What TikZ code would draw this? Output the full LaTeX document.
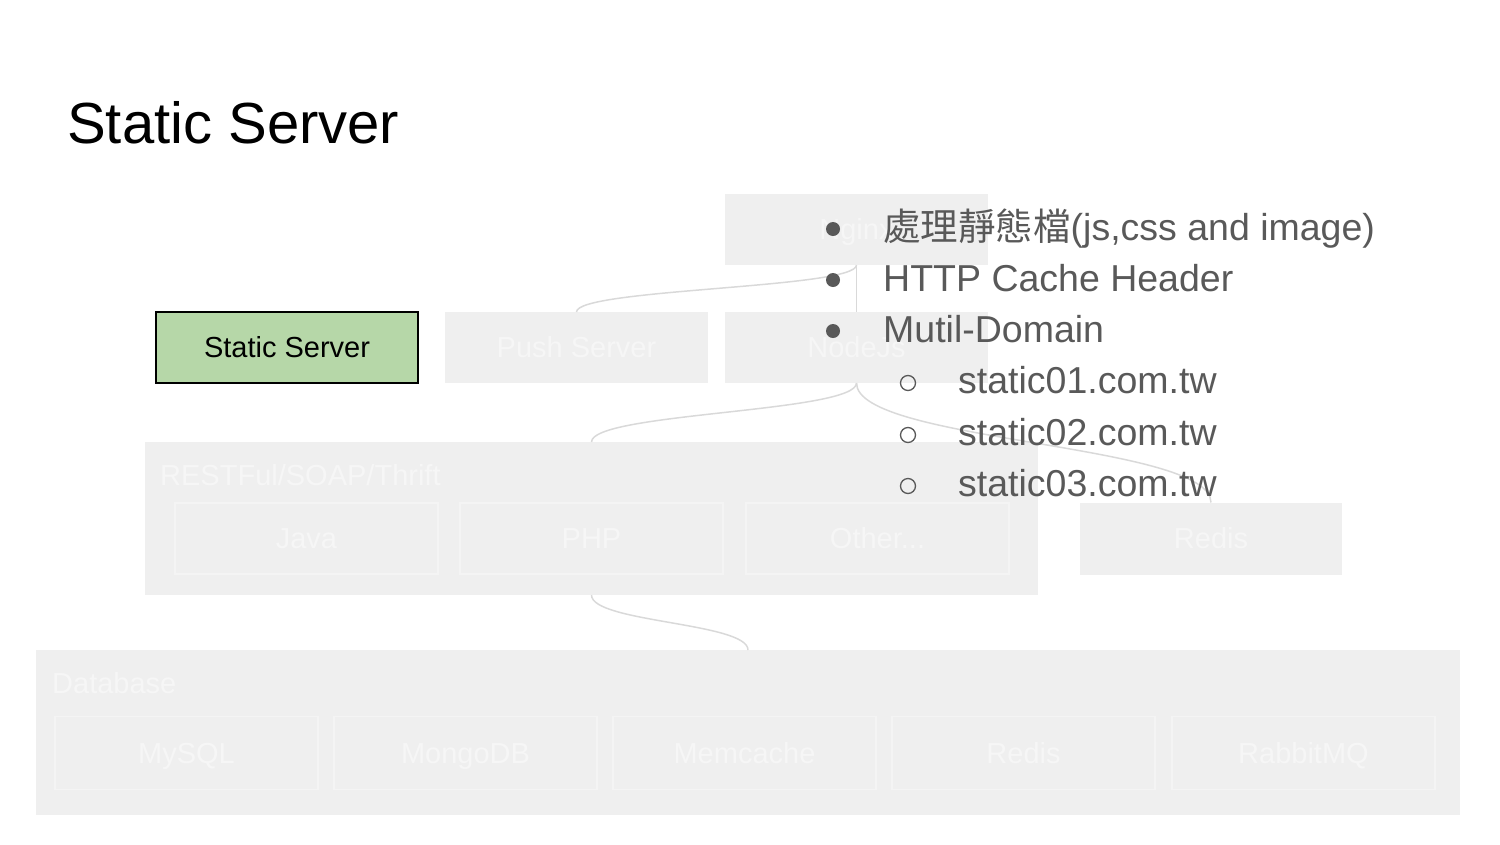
\documentclass[tikz,border=0pt]{standalone}
\usepackage{fontspec}
\setmainfont{Liberation Sans}
\newfontfamily\cjk{Noto Sans CJK TC}
\usepackage{xcolor}
\usepackage{tikz}
\usetikzlibrary{calc}

\definecolor{boxgreen}{HTML}{B6D7A8}
\definecolor{fadefill}{HTML}{EFEFEF}
\definecolor{fadeline}{HTML}{F4F4F4}
\definecolor{fadetxt}{HTML}{F6F6F6}
\definecolor{linkgray}{HTML}{D9D9D9}
\definecolor{listgray}{HTML}{595959}

\begin{document}
\begin{tikzpicture}[x=1pt,y=-1pt,
	fadebox/.style={fill=fadefill,inner sep=0pt,outer sep=0pt,minimum width=263pt,minimum height=71pt,text=fadetxt,text height=20.8pt,text depth=0pt,font=\fontsize{29}{34}\selectfont},
	fadeinner/.style={fadebox,draw=fadeline,line width=1.5pt},
	fadegroup/.style={fill=fadefill,inner sep=0pt,outer sep=0pt},
	grouplabel/.style={anchor=base west,inner sep=0pt,text=fadetxt,font=\fontsize{29}{34}\selectfont},
	link/.style={draw=linkgray,line width=1.5pt},
	listtext/.style={anchor=base west,inner sep=0pt,text=listgray,font=\fontsize{37.5}{45}\selectfont}]
	\useasboundingbox (0,0) rectangle (1500,844);
	% title
	\node[anchor=base west,inner sep=0pt,font=\fontsize{58}{70}\selectfont] (title) at (67,143.5) {Static Server};
	% faded architecture
	\node[fadebox] (nginx) at (856.5,229.5) {Nginx};
	\node[fadebox] (push) at (576.5,347.5) {Push Server};
	\node[fadebox] (nodejs) at (856.5,347.5) {NodeJs};
	\node[fadegroup,minimum width=893pt,minimum height=153pt] (rest) at (591.5,518.5) {};
	\node[grouplabel] (restlbl) at (160,485) {RESTFul/SOAP/Thrift};
	\node[fadeinner] (java) at (306.5,538.5) {Java};
	\node[fadeinner] (php) at (591.5,538.5) {PHP};
	\node[fadeinner] (other) at (877.5,538.5) {Other...};
	\node[fadebox,minimum width=262pt,minimum height=72pt] (redis) at (1211,538.5) {Redis};
	\node[fadegroup,minimum width=1424pt,minimum height=165pt] (db) at (748,732.5) {};
	\node[grouplabel] (dblbl) at (52,693) {Database};
	\node[fadeinner,minimum height=73pt] (mysql) at (186.5,753) {MySQL};
	\node[fadeinner,minimum height=73pt] (mongo) at (465.5,753) {MongoDB};
	\node[fadeinner,minimum height=73pt] (memcache) at (744.5,753) {Memcache};
	\node[fadeinner,minimum height=73pt] (dbredis) at (1023.5,753) {Redis};
	\node[fadeinner,minimum height=73pt] (rabbit) at (1303.5,753) {RabbitMQ};
	\draw[link] (nginx.south) .. controls +(0,23.5) and +(0,-23.5) .. (push.north);
	\draw[link] (nginx.south) -- (nodejs.north);
	\draw[link] (nodejs.south) .. controls +(0,29.5) and +(0,-29.5) .. (rest.north);
	\draw[link] (nodejs.south) .. controls +(0,59.5) and +(0,-59.5) .. (redis.north);
	\draw[link] (rest.south) .. controls +(0,27.5) and +(0,-27.5) .. (db.north);
	% highlighted box
	\node[fill=boxgreen,draw=black,line width=1.5pt,inner sep=0pt,minimum width=262pt,minimum height=71pt,text height=20.8pt,text depth=0pt,font=\fontsize{29}{34}\selectfont] (static) at (287,347.5) {Static Server};
	% bullet list
	\fill[listgray] (833,229) circle (7);
	\fill[listgray] (833,280) circle (7);
	\fill[listgray] (833,331) circle (7);
	\draw[listgray,line width=1.3pt] (908,383) circle (7.5);
	\draw[listgray,line width=1.3pt] (908,435) circle (7.5);
	\draw[listgray,line width=1.3pt] (908,486) circle (7.5);
	\node[listtext] (item1) at (883,240) {{\cjk 處理靜態檔}(js,css and image)};
	\node[listtext] (item2) at (883,291) {HTTP Cache Header};
	\node[listtext] (item3) at (883,342) {Mutil-Domain};
	\node[listtext] (sub1) at (958,393) {static01.com.tw};
	\node[listtext] (sub2) at (958,445) {static02.com.tw};
	\node[listtext] (sub3) at (958,496) {static03.com.tw};
\end{tikzpicture}
\end{document}
